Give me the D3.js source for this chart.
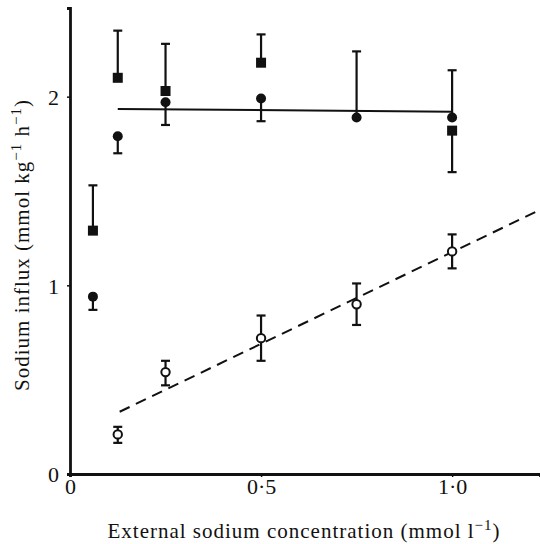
<!DOCTYPE html>
<html>
<head>
<meta charset="utf-8">
<script src="https://cdn.jsdelivr.net/npm/d3@7"></script>
<style>
  body { margin: 0; background: #fff; }
  text { font-family: "Liberation Serif", "DejaVu Serif", serif; fill: #111; }
</style>
</head>
<body>
<div id="chart"></div>
<script>
// filled squares
const sqX = [0.06, 0.125, 0.25, 0.5, 1.0];
const sqY = [1.29, 2.10, 2.03, 2.18, 1.82];
const sqErr = [1.53, 2.35, 2.28, 2.33, 1.60];

// filled circles
const fcX = [0.06, 0.125, 0.25, 0.5, 0.75, 1.0];
const fcY = [0.94, 1.79, 1.97, 1.99, 1.89, 1.89];
const fcErr = [0.87, 1.70, 1.85, 1.87, 2.24, 2.14];

// open circles
const ocX = [0.125, 0.25, 0.5, 0.75, 1.0];
const ocY = [0.21, 0.54, 0.72, 0.90, 1.18];
const ocLo = [0.165, 0.47, 0.60, 0.79, 1.09];
const ocHi = [0.25, 0.60, 0.84, 1.01, 1.27];

// fitted lines
const flatX = [0.125, 1.0];
const flatY = [1.935, 1.92];
const dashX = [0.13, 1.23];
const dashY = [0.33, 1.40];

const xTicks = [0, 0.5, 1.0];
const xTickLabels = ["0", "0·5", "1·0"];
const yTicks = [0, 1, 2];

const width = 540, height = 544;
const svg = d3.select("#chart").append("svg")
  .attr("width", width).attr("height", height);

const x = d3.scaleLinear().domain([0, 1.23]).range([70, 540]);
const y = d3.scaleLinear().domain([0, 2.47]).range([474, 8]);

// axes
const xAxis = svg.append("g")
  .attr("transform", `translate(0,${y(0)})`)
  .call(d3.axisBottom(x).tickValues(xTicks).tickSize(3).tickPadding(4)
    .tickFormat((d, i) => xTickLabels[i]));
const yAxis = svg.append("g")
  .attr("transform", `translate(${x(0)},0)`)
  .call(d3.axisLeft(y).tickValues(yTicks).tickSize(3).tickPadding(8)
    .tickFormat(d3.format("d")));

[xAxis, yAxis].forEach(a => {
  a.select(".domain").attr("stroke", "#111").attr("stroke-width", 2.8);
  a.selectAll(".tick line").attr("stroke", "#111").attr("stroke-width", 1.5);
  a.selectAll(".tick text").style("font-family", "Liberation Serif")
    .style("font-size", "22px").attr("fill", "#111");
});
xAxis.selectAll(".tick text").attr("dy", "0.6em");
yAxis.selectAll(".tick text").attr("dy", "0.35em");

// fitted lines
const line = d3.line().x(d => x(d[0])).y(d => y(d[1]));
svg.append("path")
  .datum(d3.zip(flatX, flatY))
  .attr("d", line).attr("fill", "none")
  .attr("stroke", "#111").attr("stroke-width", 2);
svg.append("path")
  .datum(d3.zip(dashX, dashY))
  .attr("d", line).attr("fill", "none")
  .attr("stroke", "#111").attr("stroke-width", 2)
  .attr("stroke-dasharray", "11,7");

// error bars
function errBars(xs, a, b) {
  const g = svg.append("g").attr("stroke", "#111").attr("stroke-width", 2.2);
  xs.forEach((xv, i) => {
    g.append("line").attr("x1", x(xv)).attr("x2", x(xv))
      .attr("y1", y(a[i])).attr("y2", y(b[i]));
    [b[i]].concat(a === ocLo ? [a[i]] : []).forEach(v => {
      g.append("line").attr("x1", x(xv) - 4.5).attr("x2", x(xv) + 4.5)
        .attr("y1", y(v)).attr("y2", y(v));
    });
  });
}
errBars(sqX, sqY, sqErr);
errBars(fcX, fcY, fcErr);
errBars(ocX, ocLo, ocHi);

// markers
svg.append("g").selectAll("rect")
  .data(d3.zip(sqX, sqY)).join("rect")
  .attr("x", d => x(d[0]) - 5).attr("y", d => y(d[1]) - 5)
  .attr("width", 10).attr("height", 10).attr("fill", "#111");

svg.append("g").selectAll("circle")
  .data(d3.zip(fcX, fcY)).join("circle")
  .attr("cx", d => x(d[0])).attr("cy", d => y(d[1]))
  .attr("r", 5).attr("fill", "#111");

svg.append("g").selectAll("circle")
  .data(d3.zip(ocX, ocY)).join("circle")
  .attr("cx", d => x(d[0])).attr("cy", d => y(d[1]))
  .attr("r", 4.2).attr("fill", "#fff")
  .attr("stroke", "#111").attr("stroke-width", 2);

// axis titles
const xt = svg.append("text")
  .attr("x", 304).attr("y", 538)
  .attr("text-anchor", "middle").style("font-size", "21px")
  .style("letter-spacing", "1px");
xt.append("tspan").text("External sodium concentration (mmol l");
xt.append("tspan").attr("dy", -8).style("font-size", "15px").text("−1");
xt.append("tspan").attr("dy", 8).text(")");

const yt = svg.append("text")
  .attr("transform", "translate(29,245) rotate(-90)")
  .attr("text-anchor", "middle").style("font-size", "21px")
  .style("letter-spacing", "1px");
yt.append("tspan").text("Sodium influx (mmol kg");
yt.append("tspan").attr("dy", -8).style("font-size", "15px").text("−1");
yt.append("tspan").attr("dy", 8).text(" h");
yt.append("tspan").attr("dy", -8).style("font-size", "15px").text("−1");
yt.append("tspan").attr("dy", 8).text(")");
</script>
</body>
</html>
